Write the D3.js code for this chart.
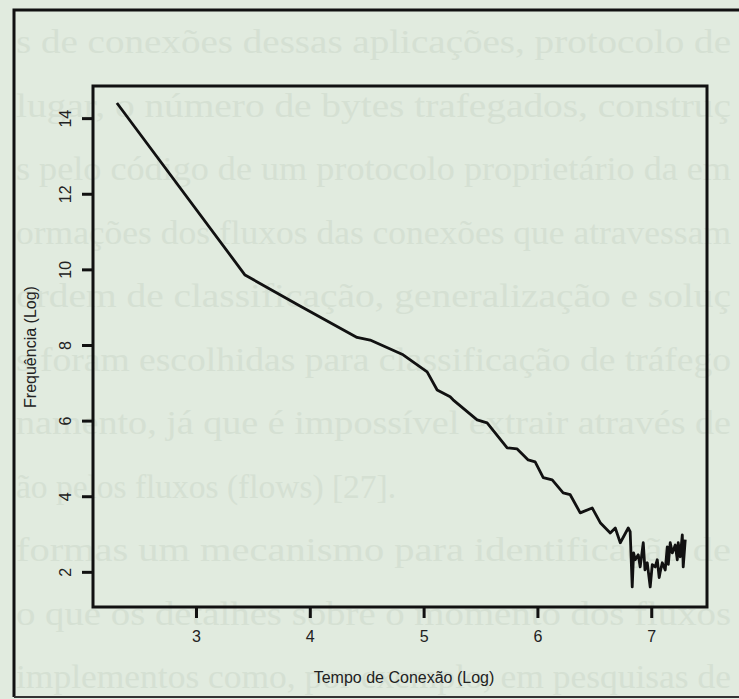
<!DOCTYPE html>
<html>
<head>
<meta charset="utf-8">
<script src="https://cdn.jsdelivr.net/npm/d3@7"></script>
<style>
  body { margin: 0; background: #e1ebdf; }
  svg { display: block; }
</style>
</head>
<body>
<div id="chart"></div>
<script>
// log connection time (x) and log frequency (y)
var tempo = [2.305, 3.431, 3.914, 4.415, 4.530, 4.820, 5.031, 5.119, 5.233, 5.259,
  5.470, 5.558, 5.734, 5.822, 5.919, 5.980, 6.051, 6.130, 6.226, 6.288,
  6.376, 6.481, 6.552, 6.640, 6.684, 6.728, 6.798, 6.815, 6.833, 6.845,
  6.859, 6.886, 6.903, 6.930, 6.945, 6.965, 6.991, 7.009, 7.035, 7.053,
  7.070, 7.079, 7.097, 7.123, 7.141, 7.150, 7.167, 7.185, 7.211, 7.229,
  7.237, 7.255, 7.273, 7.281, 7.299];
var freq = [14.40, 9.85, 9.03, 8.20, 8.13, 7.74, 7.29, 6.81, 6.63, 6.55,
  6.02, 5.94, 5.28, 5.25, 4.96, 4.91, 4.49, 4.43, 4.09, 4.04,
  3.56, 3.69, 3.30, 3.03, 3.16, 2.77, 3.16, 3.06, 1.60, 2.50,
  2.32, 2.45, 2.13, 2.77, 2.05, 2.24, 1.60, 2.19, 2.13, 2.32,
  1.85, 2.00, 2.24, 2.05, 2.66, 2.20, 2.77, 2.50, 2.71, 2.32,
  2.77, 2.40, 2.98, 2.13, 2.85];

var xTicks = [3, 4, 5, 6, 7];
var yTicks = [2, 4, 6, 8, 10, 12, 14];

// faint text of the page showing through the paper
var pageLines = [
  "s de conexões dessas aplicações, protocolo de",
  "lugar, o número de bytes trafegados, construç",
  "s pelo código de um protocolo proprietário da em",
  "ormações dos fluxos das conexões que atravessam",
  "ordem de classificação, generalização e soluç",
  "s foram escolhidas para classificação de tráfego",
  "namento, já que é impossível extrair através de",
  "ão pelos fluxos (flows) [27].",
  "formas um mecanismo para identificação de",
  "o que os detalhes sobre o momento dos fluxos",
  "implementos como, por exemplo, em pesquisas de"
];

var width = 739, height = 699;

var svg = d3.select("#chart").append("svg")
  .attr("width", width)
  .attr("height", height);

svg.append("rect")
  .attr("width", width)
  .attr("height", height)
  .attr("fill", "#e1ebdf");

svg.append("g")
  .selectAll("text")
  .data(pageLines)
  .enter().append("text")
    .attr("x", 16)
    .attr("y", (d, i) => 53 + i * 63.5)
    .attr("font-family", "Liberation Serif, serif")
    .attr("font-size", 33)
    .attr("fill", "#d5e0d3")
    .attr("textLength", (d, i) => i == 7 ? 380 : 715)
    .attr("lengthAdjust", "spacingAndGlyphs")
    .text(d => d);

// outer frame of the figure
var frame = svg.append("g")
  .attr("stroke", "#111")
  .attr("stroke-width", 3)
  .attr("fill", "none");
frame.append("path").attr("d", "M14,697V10H739");
frame.append("path").attr("d", "M14,697H739").attr("stroke", "#333").attr("stroke-width", 2);

var plot = { left: 93, right: 707, top: 86, bottom: 607 };

var x = d3.scaleLinear()
  .domain([2.095, 7.49])
  .range([plot.left, plot.right]);

var y = d3.scaleLinear()
  .domain([1.07, 14.85])
  .range([plot.bottom, plot.top]);

var xAxis = svg.append("g")
  .attr("transform", "translate(0," + plot.bottom + ")")
  .call(d3.axisBottom(x).tickValues(xTicks).tickSize(11).tickPadding(13).tickFormat(d3.format("d")));

var yAxis = svg.append("g")
  .attr("transform", "translate(" + plot.left + ",0)")
  .call(d3.axisLeft(y).tickValues(yTicks).tickSize(11).tickFormat(d3.format("d")));

[xAxis, yAxis].forEach(a => {
  a.select(".domain").remove();
  a.selectAll(".tick line").attr("stroke", "#111").attr("stroke-width", 3);
  a.selectAll(".tick text")
    .attr("fill", "#222")
    .attr("font-family", "Liberation Sans, Arial, sans-serif")
    .attr("font-size", 16);
});

yAxis.selectAll(".tick text")
  .attr("x", null)
  .attr("dy", null)
  .attr("y", -22)
  .attr("text-anchor", "middle")
  .attr("transform", "rotate(-90)");

svg.append("rect")
  .attr("x", plot.left)
  .attr("y", plot.top)
  .attr("width", plot.right - plot.left)
  .attr("height", plot.bottom - plot.top)
  .attr("fill", "none")
  .attr("stroke", "#111")
  .attr("stroke-width", 3);

var line = d3.line()
  .x((d, i) => x(tempo[i]))
  .y(d => y(d));

svg.append("path")
  .datum(freq)
  .attr("d", line)
  .attr("fill", "none")
  .attr("stroke", "#111")
  .attr("stroke-width", 2.8)
  .attr("stroke-linejoin", "round");

svg.append("text")
  .attr("x", (plot.left + plot.right) / 2 + 4)
  .attr("y", 683)
  .attr("text-anchor", "middle")
  .attr("font-family", "Liberation Sans, Arial, sans-serif")
  .attr("font-size", 16)
  .attr("fill", "#222")
  .text("Tempo de Conexão (Log)");

svg.append("text")
  .attr("transform", "translate(36,347) rotate(-90)")
  .attr("text-anchor", "middle")
  .attr("font-family", "Liberation Sans, Arial, sans-serif")
  .attr("font-size", 16)
  .attr("fill", "#222")
  .text("Frequência (Log)");
</script>
</body>
</html>
